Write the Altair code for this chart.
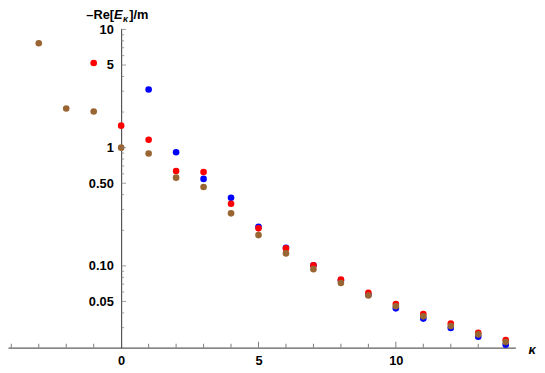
import altair as alt
import pandas as pd

# ---- data ----
kappa_blue = list(range(1, 15))
blue_vals = [3.1, 0.914, 0.544, 0.376, 0.214, 0.142, 0.101, 0.0755, 0.057,
             0.0437, 0.0358, 0.0298, 0.0251, 0.0215]
kappa_red = list(range(-1, 15))
red_vals = [5.2, 1.535, 1.167, 0.635, 0.622, 0.335, 0.2075, 0.1404, 0.1013,
            0.0764, 0.0592, 0.0476, 0.0391, 0.0325, 0.0272, 0.0236]
kappa_brown = list(range(-3, 15))
brown_vals = [7.64, 2.14, 2.02, 1.0, 0.891, 0.557, 0.464, 0.278, 0.182, 0.1275,
              0.0938, 0.0717, 0.0562, 0.0455, 0.0374, 0.031, 0.0263, 0.0227]

series_names = ["blue", "red", "brown"]
series_colors = ["#0000FF", "#FF0000", "#996633"]

y_major = [0.05, 0.1, 0.5, 1, 5, 10]
y_minor = [0.03, 0.04, 0.06, 0.07, 0.08, 0.09, 0.2, 0.3, 0.4, 0.6, 0.7, 0.8,
           0.9, 2, 3, 4, 6, 7, 8, 9]
x_major = [0, 5, 10]
x_minor = [-4, -3, -2, -1, 1, 2, 3, 4, 6, 7, 8, 9, 11, 12, 13, 14]

title_parts = ["\u2013Re[", "E", "\u03ba", "]/m"]
x_label = ["\u03ba"]

# ---- layout ----
W, H = 515, 324
XDOM = [-4.12, 14.35]
YDOM = [0.02034, 10.19]
x_zero_px = (0 - XDOM[0]) / (XDOM[1] - XDOM[0]) * W
FONT = "Liberation Sans"

rows = []
for name, ks, vs in [("blue", kappa_blue, blue_vals),
                     ("red", kappa_red, red_vals),
                     ("brown", kappa_brown, brown_vals)]:
    for k, v in zip(ks, vs):
        rows.append({"k": k, "v": v, "s": name})
df = pd.DataFrame(rows)

xscale = alt.Scale(domain=XDOM, nice=False, zero=False)
yscale = alt.Scale(type="log", domain=YDOM, nice=False)

points = alt.Chart(df).mark_circle(size=45, opacity=1).encode(
    x=alt.X("k:Q", scale=xscale, title=None,
            axis=alt.Axis(values=x_major, ticks=False, grid=False, labelPadding=7,
                          domainColor="#333", domainWidth=1,
                          labelFont=FONT, labelFontSize=13, labelFontWeight="bold",
                          labelColor="black", labelOverlap=False)),
    y=alt.Y("v:Q", scale=yscale, title=None,
            axis=alt.Axis(values=y_major, ticks=False, grid=False, labelPadding=8,
                          offset=-x_zero_px, domainColor="#333", domainWidth=1,
                          labelExpr="datum.value >= 1 ? format(datum.value, 'd') : format(datum.value, '.2f')",
                          labelFont=FONT, labelFontSize=13, labelFontWeight="bold",
                          labelColor="black", labelOverlap=False)),
    color=alt.Color("s:N", scale=alt.Scale(domain=series_names, range=series_colors),
                    legend=None),
    order=alt.Order("o:Q"),
).transform_calculate(o="datum.s == 'blue' ? 0 : (datum.s == 'red' ? 1 : 2)")

tick_col = "#777"
ymaj = alt.Chart(pd.DataFrame({"t": y_major})).mark_tick(
    orient="horizontal", size=5, thickness=1, xOffset=2.5, color=tick_col
).encode(x=alt.datum(0), y=alt.Y("t:Q"))
ymin = alt.Chart(pd.DataFrame({"t": y_minor})).mark_tick(
    orient="horizontal", size=3, thickness=1, xOffset=1.5, color=tick_col
).encode(x=alt.datum(0), y=alt.Y("t:Q"))
xmaj = alt.Chart(pd.DataFrame({"t": x_major[1:]})).mark_tick(
    orient="vertical", size=6, thickness=1, yOffset=-3, color="#444"
).encode(x=alt.X("t:Q"), y=alt.value(H))
xmin = alt.Chart(pd.DataFrame({"t": x_minor})).mark_tick(
    orient="vertical", size=4, thickness=1, yOffset=-2, color="#444"
).encode(x=alt.X("t:Q"), y=alt.value(H))

def txt(s, xpx, ypx, size=13, style="normal", align="left"):
    return alt.Chart(pd.DataFrame({"s": [s]})).mark_text(
        font=FONT, fontSize=size, fontWeight="bold", fontStyle=style,
        align=align, baseline="alphabetic", color="black"
    ).encode(x=alt.value(xpx), y=alt.value(ypx), text="s:N")

title_layers = [
    txt(title_parts[0], 79.5, -9.5),
    txt(title_parts[1], 107.5, -9.5, style="italic"),
    txt(title_parts[2], 116.8, -6.5, size=9, style="italic"),
    txt(title_parts[3], 123, -9.5),
    txt(x_label[0], 532, 330, size=13, style="italic", align="center"),
]

chart = alt.layer(points, xmin, xmaj, ymin, ymaj, *title_layers).properties(
    width=W, height=H,
    background="white",
    autosize=alt.AutoSizeParams(type="none"),
    padding={"left": 0, "top": 18, "right": 22, "bottom": 22},
).configure_view(stroke=None)

chart.save("out.html", embed_options={"renderer": "svg", "actions": False})
